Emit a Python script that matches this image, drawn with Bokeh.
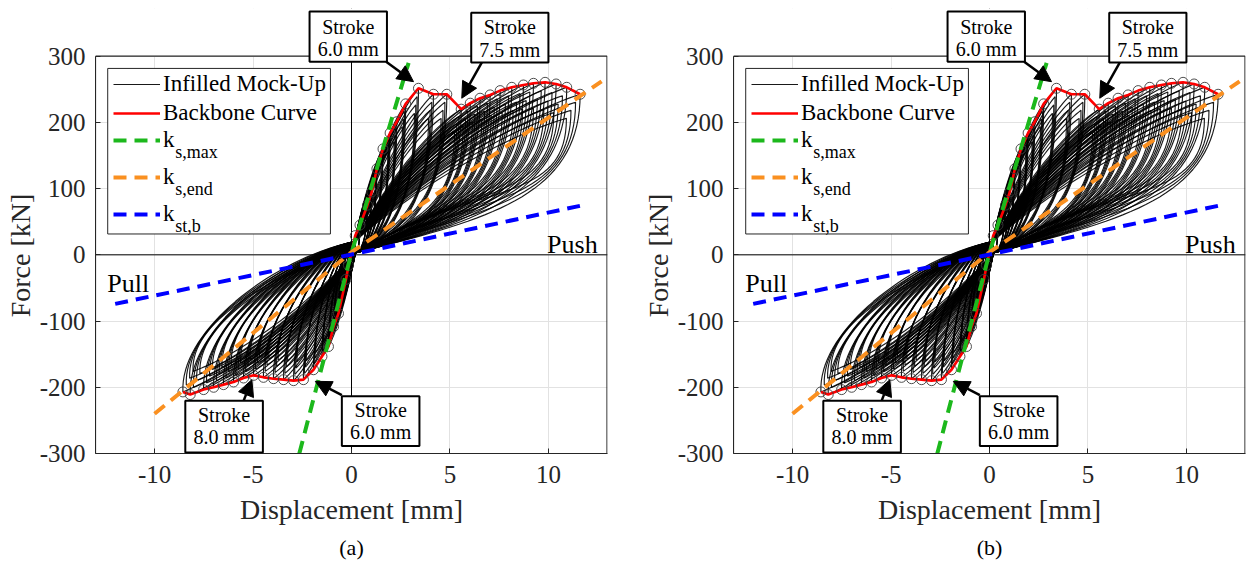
import numpy as np
from bokeh.plotting import figure
from bokeh.layouts import row
from bokeh.models import (Span, Label, Arrow, NormalHead, Legend, LegendItem, Title,
                          BoxAnnotation)
from bokeh.embed import file_html
from bokeh.resources import INLINE

FONT = "Liberation Serif"

# ---------------- data ----------------
# first-cycle peaks (backbone points), push side
push_peak_disp = [0.19, 0.43, 0.81, 1.03, 1.29, 1.60, 1.96, 2.30, 2.75, 3.40, 4.16, 4.84,
                  5.57, 6.03, 6.53, 7.04, 7.55, 8.14, 8.73, 9.24, 9.83, 10.39, 10.93, 11.61]
push_peak_force = [29.0, 45.0, 75.0, 95.0, 130.0, 160.0, 184.0, 201.0, 228.0, 251.5, 242.5, 242.5,
                   220.0, 229.0, 236.5, 241.5, 248.0, 253.0, 256.5, 259.0, 260.5, 258.0, 253.0, 242.5]
# first-cycle peaks (backbone points), pull side
pull_peak_disp = [-0.15, -0.28, -0.66, -0.91, -1.17, -1.50, -1.93, -2.44, -2.94, -3.45, -3.96,
                  -4.47, -4.97, -5.48, -5.99, -6.50, -7.00, -7.51, -8.19, -8.56]
pull_peak_force = [-16.0, -37.0, -88.5, -108.5, -138.5, -153.5, -173.5, -188.5, -190.0, -188.5,
                   -187.0, -185.0, -182.0, -186.0, -192.0, -196.0, -200.0, -203.5, -211.0, -207.0]
# repeated cycles at each stroke: reached displacement / force and relative soft-branch stiffness
cycle_disp_ratio = [1.0, 0.98, 0.96, 0.94]
cycle_force_ratio = [1.0, 0.95, 0.90, 0.85]
cycle_soft_ratio = [1.0, 1.35, 1.75, 2.3]
# pinching points of the loops (displacement, force)
pinch_a = (0.20, 3.0)
pinch_b = (0.15, 20.0)

# stiffness lines
ks_max_disp = [-2.65, 0.0, 2.9]
ks_max_force = [-300.0, 3.0, 290.0]
ks_end_disp = [-10.0, 0.0, 12.7]
ks_end_force = [-240.0, 4.0, 262.0]
kst_b_disp = [-12.0, 0.0, 11.6]
kst_b_force = [-74.0, 0.5, 74.0]

x_ticks = [-10, -5, 0, 5, 10]
y_ticks = [-300, -200, -100, 0, 100, 200, 300]

# callouts: two text lines, box (left, right, bottom, top), line centres, arrow
callout_lines = [("Stroke", "6.0 mm"), ("Stroke", "7.5 mm"), ("Stroke", "8.0 mm"), ("Stroke", "6.0 mm")]
callout_box = [(-2.13, 1.80, 291.5, 367.5), (6.08, 10.0, 290.5, 365.5),
               (-8.44, -4.50, -298.5, -220.5), (-0.49, 3.45, -288.5, -213.5)]
callout_line_y = [(343.5, 310.5), (343.5, 309.0), (-241.5, -275.0), (-234.0, -267.0)]
arrow_from = [(1.76, 291.5), (6.62, 290.5), (-5.48, -220.5), (-0.49, -212.0)]
arrow_to = [(3.15, 261.5), (5.60, 236.5), (-5.06, -188.5), (-1.84, -191.0)]

Y_TOP = 372.0   # frame reaches above the axes box so that the callouts are not cut


def bez(p0, p1, p2, p3, n=36):
    t = np.linspace(0.0, 1.0, n)
    a, b, c, d = (1 - t) ** 3, 3 * (1 - t) ** 2 * t, 3 * (1 - t) * t ** 2, t ** 3
    x = a * p0[0] + b * p1[0] + c * p2[0] + d * p3[0]
    y = a * p0[1] + b * p1[1] + c * p2[1] + d * p3[1]
    return x, y


def loops():
    xs, ys = [], []
    sides = ((push_peak_disp, push_peak_force, 7.5, pinch_a, pinch_b, 0.6, 1.0, 0.36),
             (pull_peak_disp, pull_peak_force, 6.0, pinch_b, pinch_a, 0.45, 1.02, 0.58))
    for disp, force, k_soft, s, e, c1, c2x, c2y in sides:
        for d0, f0 in zip(disp, force):
            for rd, r, ks in zip(cycle_disp_ratio, cycle_force_ratio, cycle_soft_ratio):
                d, f = d0 * rd, f0 * r
                p1 = (s[0] + c1 * (d - s[0]), s[1] + k_soft * ks * c1 * (d - s[0]))
                p2 = (d * c2x, s[1] + c2y * (f - s[1]))
                x1, y1 = bez(s, p1, p2, (d, f))
                q1 = (d - 0.3 * (d - e[0]), f - 0.15 * (f - e[1]))
                q2 = (e[0] + 0.3 * (d - e[0]), e[1] + 0.45 * (f - e[1]))
                x2, y2 = bez((d, f), q1, q2, e)
                xs.append(list(np.concatenate([x1, x2[1:]])))
                ys.append(list(np.concatenate([y1, y2[1:]])))
    return xs, ys


loop_xs, loop_ys = loops()
bb_disp = pull_peak_disp[::-1] + push_peak_disp
bb_force = pull_peak_force[::-1] + push_peak_force


def make_panel(tag, bl, br, bt, frame_bottom):
    bb = 564 - frame_bottom
    p = figure(width=bl + 512 + br, height=564, x_range=(-13, 13), y_range=(-300, Y_TOP),
               output_backend="svg", toolbar_location=None,
               min_border_left=bl, min_border_right=br, min_border_top=bt, min_border_bottom=bb)
    p.background_fill_color = "white"
    p.border_fill_color = "white"
    p.outline_line_color = None

    p.xaxis.ticker = x_ticks
    p.yaxis.ticker = y_ticks
    p.yaxis.bounds = (-300, 300)
    p.xaxis.major_label_overrides = {v: str(v) for v in x_ticks}
    p.yaxis.major_label_overrides = {v: str(v) for v in y_ticks}
    p.xaxis.axis_label = "Displacement [mm]"
    # non-breaking spaces keep the label centred on the -300..300 box
    p.yaxis.axis_label = "Force [kN]" + "\u00a0" * 7
    for ax in (p.xaxis, p.yaxis):
        ax.axis_label_text_font = FONT
        ax.axis_label_text_font_size = "28px"
        ax.axis_label_text_font_style = "normal"
        ax.axis_label_text_color = "#262626"
        ax.major_label_text_font = FONT
        ax.major_label_text_font_size = "25px"
        ax.major_label_text_color = "#262626"
        ax.axis_line_color = "#262626"
        ax.major_tick_line_color = "#262626"
        ax.major_tick_in = 5
        ax.major_tick_out = 0
        ax.minor_tick_line_color = None
    p.xaxis.major_label_standoff = 12
    p.xaxis.axis_label_standoff = 8
    p.yaxis.major_label_standoff = 10
    p.yaxis.axis_label_standoff = 1
    p.grid.grid_line_color = "#e2e2e2"
    p.grid.grid_line_width = 1

    p.add_layout(Span(location=0, dimension="width", line_color="black", line_width=1,
                      level="underlay"))
    p.add_layout(Span(location=0, dimension="height", line_color="black", line_width=1,
                      level="underlay"))
    # blank out grid above the axes box
    p.add_layout(BoxAnnotation(bottom=300, fill_color="white", fill_alpha=1.0, line_color=None,
                               level="underlay"))
    # axes box (top and right edges)
    p.add_layout(BoxAnnotation(left=-13, right=12.975, bottom=-300, top=300, fill_alpha=0.0,
                               line_color="#262626", line_width=1.2, line_alpha=1.0,
                               level="underlay"))
    # legend box
    p.add_layout(BoxAnnotation(left=-12.38, right=-1.07, bottom=31.5, top=281.5,
                               fill_color="white", fill_alpha=1.0, line_color="#262626",
                               line_width=1, line_alpha=1.0, level="underlay"))

    r_loop = p.multi_line(loop_xs, loop_ys, line_color="black", line_width=1.15, line_alpha=0.9)
    r_bb = p.line(bb_disp, bb_force, line_color="#ff0000", line_width=2.6)
    p.scatter(push_peak_disp, push_peak_force, marker="circle", size=10, fill_color=None,
              line_color="#3a3a3a", line_width=0.9)
    p.scatter(pull_peak_disp, pull_peak_force, marker="circle", size=10, fill_color=None,
              line_color="#3a3a3a", line_width=0.9)
    r_g = p.line(ks_max_disp, ks_max_force, line_color="#1cb81c", line_width=4, line_dash="13 8")
    r_o = p.line(ks_end_disp, ks_end_force, line_color="#fa9020", line_width=4, line_dash="13 8")
    r_b = p.line(kst_b_disp, kst_b_force, line_color="#0000ff", line_width=4, line_dash="13 8")

    def styled(legend, h, sp):
        legend.padding = 0
        legend.margin = 0
        legend.spacing = sp
        legend.label_height = h
        legend.glyph_height = h
        legend.glyph_width = 47
        legend.label_standoff = 3
        legend.label_text_font = FONT
        legend.label_text_font_size = "23px"
        legend.label_text_color = "black"
        legend.border_line_color = None
        legend.background_fill_alpha = 0.0
        return legend

    leg1 = styled(Legend(items=[LegendItem(label="Infilled Mock-Up", renderers=[r_loop]),
                                LegendItem(label="Backbone Curve", renderers=[r_bb])],
                         location=(18, 327)), 24, 3)
    leg2 = styled(Legend(items=[LegendItem(label="k", renderers=[r_g]),
                                LegendItem(label="k", renderers=[r_o]),
                                LegendItem(label="k", renderers=[r_b])],
                         location=(18, 226)), 26, 11)
    p.add_layout(leg1)
    p.add_layout(leg2)

    for txt, yy in (("s,max", 155.0), ("s,end", 99.0), ("st,b", 44.0)):
        p.add_layout(Label(x=-8.95, y=yy, text=txt, text_font=FONT, text_font_size="18px",
                           text_baseline="middle", text_align="left", text_color="black",
                           level="overlay"))

    p.add_layout(Label(x=12.5, y=15, text="Push", text_font=FONT, text_font_size="26px",
                       text_align="right", text_baseline="alphabetic", text_color="black"))
    p.add_layout(Label(x=-12.4, y=-43.5, text="Pull", text_font=FONT, text_font_size="26px",
                       text_align="left", text_baseline="alphabetic", text_color="black"))

    for (l1, l2), (bx0, bx1, by0, by1), (ly1, ly2), (ax0, ay0), (ax1, ay1) in zip(
            callout_lines, callout_box, callout_line_y, arrow_from, arrow_to):
        p.add_layout(Arrow(end=NormalHead(size=16, fill_color="black", line_color="black"),
                           x_start=ax0, y_start=ay0, x_end=ax1, y_end=ay1,
                           line_color="black", line_width=2.5, level="overlay"))
        p.add_layout(BoxAnnotation(left=bx0, right=bx1, bottom=by0, top=by1, fill_color="white",
                                   fill_alpha=1.0, line_color="black", line_width=2,
                                   line_alpha=1.0, level="overlay"))
        cx = 0.5 * (bx0 + bx1)
        for txt, yy in ((l1, ly1), (l2, ly2)):
            p.add_layout(Label(x=cx, y=yy, text=txt, text_font=FONT, text_font_size="20px",
                               text_align="center", text_baseline="middle", text_color="black",
                               level="overlay"))

    p.add_layout(Title(text=tag, align="center", text_font=FONT, text_font_size="22px",
                       text_font_style="normal", text_color="black"), "below")
    return p


pa = make_panel("(a)", 95, 18, 8, 456)
pb = make_panel("(b)", 108, 4, 5, 453)
layout = row(pa, pb)
open("out.html", "w").write(file_html(layout, INLINE))
